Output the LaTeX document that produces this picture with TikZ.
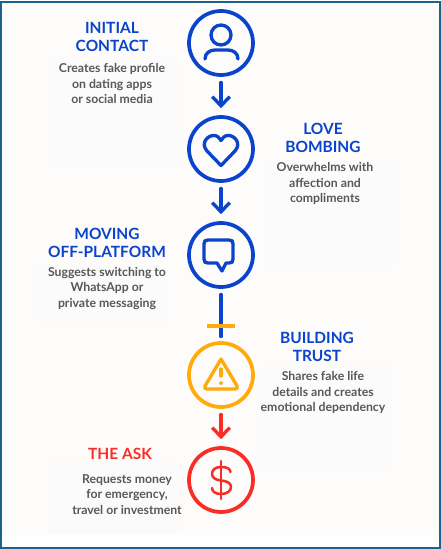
\documentclass[tikz,border=0pt]{standalone}
\usepackage{fontspec}
\setmainfont{Lato}
\usetikzlibrary{arrows.meta,positioning}
\definecolor{cblue}{RGB}{10,68,204}
\definecolor{camber}{RGB}{255,172,10}
\definecolor{cred}{RGB}{250,44,38}
\definecolor{cgrey}{RGB}{88,88,88}
\definecolor{cframe}{RGB}{24,100,140}
\definecolor{cpage}{RGB}{253,252,251}
\definecolor{cpatch}{RGB}{252,251,251}
\tikzset{
  stepnode/.style={circle, draw=#1, line width=2.8pt, minimum size=48pt, inner sep=0pt},
  ttl/.style={font=\fontsize{11.6}{13.5}\selectfont\bfseries, text=#1, align=center},
  bdy/.style={font=\fontsize{9.2}{11.6}\selectfont\bfseries, text=cgrey, align=center},
  ico/.style={draw=#1, line width=2.5pt, line cap=round, line join=round},
  arr/.style={-{Straight Barb[length=2.4mm,width=4.6mm]}, #1, line width=2.5pt, line cap=round},
  patch/.style={fill=cpatch, draw=none},
}
\begin{document}
\begin{tikzpicture}[x=0.75pt,y=-0.75pt]
\useasboundingbox (0,0) rectangle (441,549);
\fill[white] (0,0) rectangle (441,549);
\fill[cpage] (2,4) rectangle (439,535);
\fill[patch] (47,60) rectangle (178,166);
\fill[patch] (265,160) rectangle (395,267);
\fill[patch] (38,266) rectangle (168,322);
\fill[patch] (260,366) rectangle (391,470);
\fill[patch] (47,462) rectangle (178,535);
\draw[cframe, line width=1.5pt] (1,2.5) rectangle (440.3,548.3);
% steps
\node[stepnode=cblue] (contact) at (221,43) {};
\node[stepnode=cblue] (bombing) at (221,149) {};
\node[stepnode=cblue] (moving) at (221,255) {};
\node[stepnode=camber] (trust) at (221,375) {};
\node[stepnode=cred] (ask) at (221,480) {};
% connectors
\draw[arr=cblue, shorten <=4.2pt, shorten >=5.2pt] (contact) -- (bombing);
\draw[arr=cblue, shorten <=4.2pt, shorten >=5.2pt] (bombing) -- (moving);
\draw[cblue, line width=2.5pt, line cap=round, shorten <=4.2pt, shorten >=3.5pt] (moving) -- (trust);
\coordinate (tickl) at (207,326);
\coordinate (tickr) at (235,326);
\draw[camber, line width=2.5pt] (tickl) -- (tickr);
\draw[arr=cred, shorten <=4.2pt, shorten >=5.2pt] (trust) -- (ask);
% icons
\draw[ico=cblue] (221,35) circle (10);
\draw[ico=cblue] (205,59) .. controls (205,53) and (210,50) .. (215,50) -- (228,50) .. controls (233,50) and (238,53) .. (238,59);
\draw[ico=cblue] (221,165.5) -- (207,151) .. controls (200,143) and (208,135) .. (214,135.5) .. controls (217,135.5) and (220,138) .. (221,140.5) .. controls (222,138) and (225,135.5) .. (228,135.5) .. controls (234,135) and (242,143) .. (235,151) -- cycle;
\draw[ico=cblue] (208,240) -- (229,240) .. controls (232,240) and (233,241) .. (233,244) -- (233,259) .. controls (233,262) and (232,263) .. (229,263) -- (226,263) -- (222,271) -- (217,263) -- (208,263) .. controls (205,263) and (204,262) .. (204,259) -- (204,244) .. controls (204,241) and (205,240) .. (208,240) -- cycle;
\draw[ico=camber] (221,359) -- (237,386) .. controls (238,388) and (237,389) .. (235,389) -- (207,389) .. controls (205,389) and (204,388) .. (205,386) -- cycle;
\draw[ico=camber] (221,369) -- (221,376);
\draw[ico=camber] (221,383) -- (221,383.2);
\draw[ico=cred, line width=1.9pt] (221,461) -- (221,499);
\draw[ico=cred, line width=1.9pt] (230.5,472) .. controls (230,468) and (226,467) .. (221,467) .. controls (215,467) and (212,470) .. (212,474) .. controls (212,478) and (216,480) .. (221,480.5) .. controls (227,481) and (231,483) .. (231,487) .. controls (231,491) and (227,494) .. (221,494) .. controls (216,494) and (212,492) .. (212,488);
% labels
\node[ttl=cblue] (contactttl) at (112,37) {INITIAL\\CONTACT};
\node[bdy] (contactbdy) at (112,83.5) {Creates fake profile\\on dating apps\\or social media};
\node[ttl=cblue] (bombingttl) at (323,138) {LOVE\\BOMBING};
\node[bdy] (bombingbdy) at (325,183.5) {Overwhelms with\\affection and\\compliments};
\node[ttl=cblue] (movingttl) at (107,243) {MOVING\\OFF-PLATFORM};
\node[bdy] (movingbdy) at (107,288.5) {Suggests switching to\\WhatsApp or\\private messaging};
\node[ttl=cblue] (trustttl) at (317,347) {BUILDING\\TRUST};
\node[bdy] (trustbdy) at (323,392.5) {Shares fake life\\details and creates\\emotional dependency};
\node[ttl=cred] (askttl) at (120,454) {THE ASK};
\node[bdy] (askbdy) at (127,494.5) {Requests money\\for emergency,\\travel or investment};
\end{tikzpicture}
\end{document}
